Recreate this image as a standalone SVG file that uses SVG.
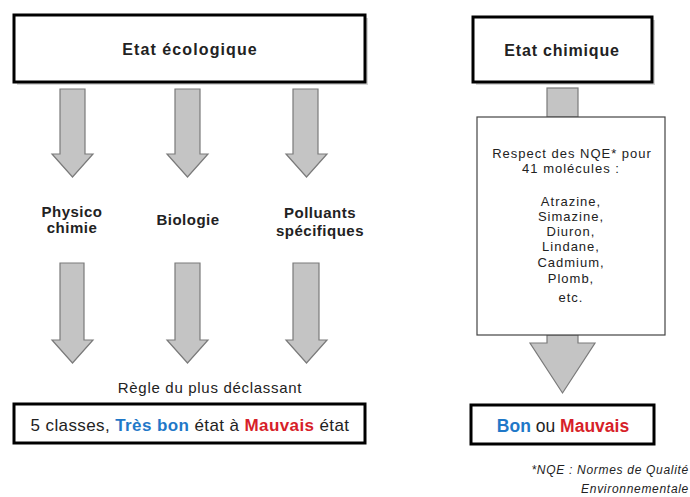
<svg xmlns="http://www.w3.org/2000/svg" width="690" height="497" viewBox="0 0 690 497">
<style>
.box{fill:#fff;stroke:#000;stroke-width:3}
.shadow{fill:#bbb;opacity:0.6}
.arr{fill:#c4c4c4;stroke:#7a7a7a;stroke-width:1.2;stroke-linejoin:miter}
.t{font-family:"Liberation Sans",Arial,sans-serif;fill:#222;text-anchor:middle}
.b{font-weight:bold}
.lbl{font-size:15px;font-weight:bold;letter-spacing:0.5px}
.mol{font-size:13px;letter-spacing:1px}
.blue{fill:#1f78c8;font-weight:bold}
.red{fill:#d71f2a;font-weight:bold}
</style>
<rect width="690" height="497" fill="#fff"/>
<g id="etat-ecologique">
<rect class="shadow" x="17" y="18" width="351" height="67"/>
<rect class="box" x="14" y="15" width="351" height="67"/>
<text class="t b" x="190" y="55" font-size="16" letter-spacing="1.1">Etat écologique</text>
</g>
<g id="etat-chimique">
<rect class="shadow" x="476" y="20" width="179" height="65"/>
<rect class="box" x="473" y="17" width="179" height="65"/>
<text class="t b" x="562" y="56" font-size="16" letter-spacing="0.8">Etat chimique</text>
</g>
<g id="connectors">
<path class="arr" d="M60,89 H85 V154 H93 L72.5,177 L52,154 H60 Z"/>
<path class="arr" d="M175,89 H200 V154 H208 L187.5,177 L167,154 H175 Z"/>
<path class="arr" d="M293,89 H318 V154 H327 L306.5,177 L286,154 H293 Z"/>
<path class="arr" d="M60,263 H84 V340 H93 L72.5,363 L52,340 H60 Z"/>
<path class="arr" d="M175,263 H200 V340 H208 L187.5,363 L167,340 H175 Z"/>
<path class="arr" d="M293,263 H319 V340 H327 L306.5,363 L286,340 H293 Z"/>
<rect class="arr" x="547" y="88" width="31" height="29"/>
<path class="arr" d="M547,335 H578 V343 H595 L562.5,393 L530,343 H547 Z"/>
</g>
<g id="physico-chimie">
<text class="t lbl" x="72" y="217">Physico</text>
<text class="t lbl" x="72" y="233">chimie</text>
</g>
<g id="biologie">
<text class="t lbl" x="188" y="225">Biologie</text>
</g>
<g id="polluants">
<text class="t lbl" x="320" y="218">Polluants</text>
<text class="t lbl" x="320" y="236">spécifiques</text>
</g>
<g id="regle">
<text class="t" x="210" y="393" font-size="15" letter-spacing="0.7">Règle du plus déclassant</text>
</g>
<g id="classes">
<rect class="box" x="14" y="404" width="351" height="39"/>
<text class="t" x="190" y="431" font-size="17" letter-spacing="0.4">5 classes, <tspan class="blue">Très bon</tspan> état à <tspan class="red">Mauvais</tspan> état</text>
</g>
<g id="nqe">
<rect x="477" y="117" width="188" height="218" fill="#fff" stroke="#444" stroke-width="1.2"/>
<g class="t mol">
<text x="572" y="158">Respect des NQE* pour</text>
<text x="571" y="173">41 molécules :</text>
<text x="571" y="206">Atrazine,</text>
<text x="571" y="221">Simazine,</text>
<text x="571" y="236">Diuron,</text>
<text x="571" y="251">Lindane,</text>
<text x="571" y="267">Cadmium,</text>
<text x="571" y="283">Plomb,</text>
<text x="571" y="302">etc.</text>
</g>
</g>
<g id="bon-mauvais">
<rect class="box" x="471" y="405" width="183" height="39"/>
<text class="t" x="563" y="432" font-size="17.5"><tspan class="blue">Bon</tspan> ou <tspan class="red">Mauvais</tspan></text>
</g>
<g id="footnote" class="t" font-size="12" font-style="italic" letter-spacing="0.7" style="text-anchor:end">
<text x="689" y="474">*NQE : Normes de Qualité</text>
<text x="689" y="493">Environnementale</text>
</g>
</svg>
